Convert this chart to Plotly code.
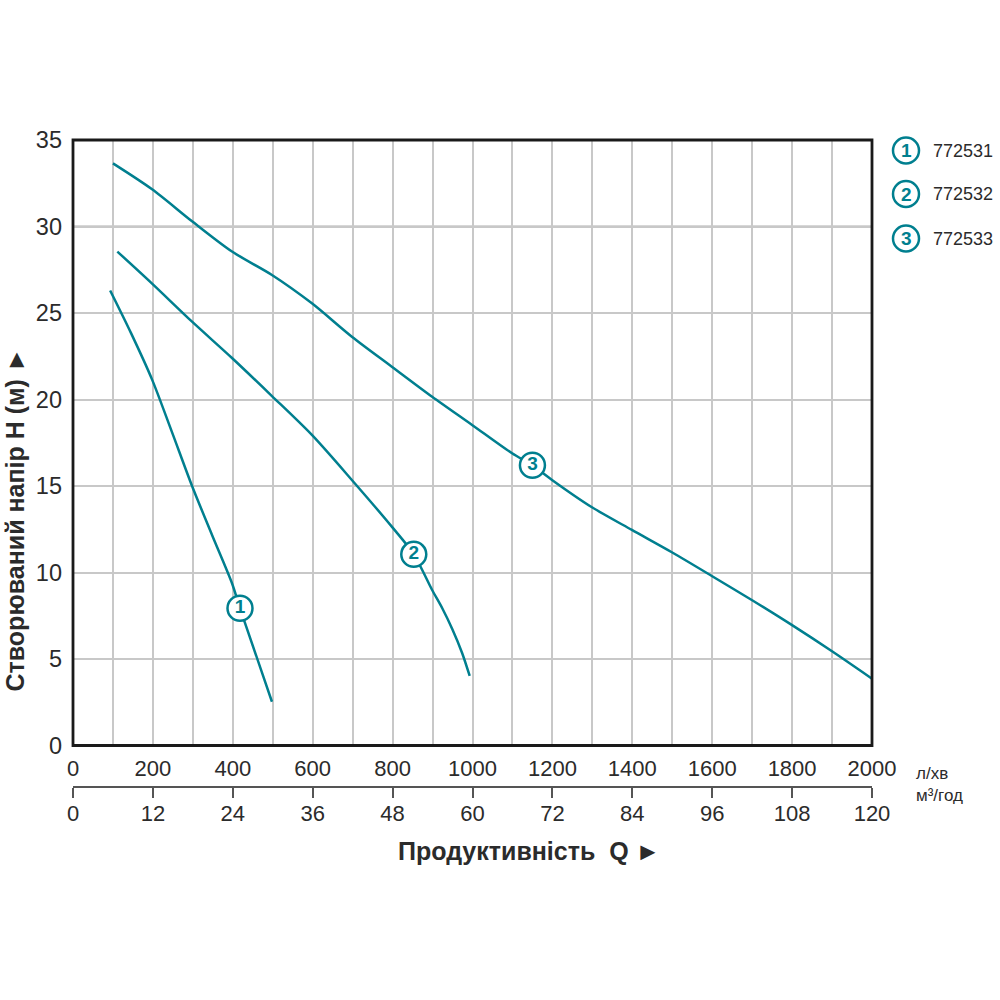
import plotly.graph_objects as go

Q1 = [93, 145, 198, 248, 298, 348, 398, 418, 498]
H1 = [26.3, 23.85, 21.15, 18.1, 15.0, 12.17, 9.38, 7.93, 2.53]
Q2 = [111, 198, 298, 398, 498, 598, 698, 798, 853, 899, 924, 949, 974, 993]
H2 = [28.55, 26.7, 24.5, 22.4, 20.2, 17.95, 15.35, 12.65, 11.05, 8.99, 7.95, 6.75, 5.35, 4.02]
Q3 = [100, 198, 298, 398, 498, 598, 698, 798, 899, 999, 1099, 1150, 1199, 1299, 1399, 1499, 1599, 1699, 1799, 1899, 2000]
H3 = [33.65, 32.15, 30.3, 28.55, 27.2, 25.56, 23.63, 21.9, 20.16, 18.53, 16.89, 16.2, 15.35, 13.77, 12.46, 11.17, 9.8, 8.41, 6.97, 5.46, 3.86]
CURVES = [(Q1, H1, 7), (Q2, H2, 8), (Q3, H3, 11)]
NUMBERS = ["1", "2", "3"]
CODES = ["772531", "772532", "772533"]
LPM_TICKS = list(range(0, 2001, 200))
M3H_TICKS = list(range(0, 121, 12))

TEAL = "#007f8f"
GRID = "#c8c8c8"
TEXT = "#2b2b2b"
FONT = "Liberation Sans, Arial, sans-serif"

W, H = 1000, 1000
L, R, T, B = 73, 128, 140, 100
PH = H - T - B
PW = W - L - R
BOTTOM = 745.5


def px(x):
    return (x - L) / PW


def py(y):
    return (H - B - y) / PH


fig = go.Figure()
for q, h, _ in CURVES:
    fig.add_trace(go.Scatter(x=q, y=h, mode="lines", line=dict(color=TEAL, width=2.5, shape="spline", smoothing=0.8),
                             showlegend=False, hoverinfo="skip"))
for (q, h, i), n in zip(CURVES, NUMBERS):
    fig.add_trace(go.Scatter(x=[q[i]], y=[h[i]], mode="markers+text", text=[n], textposition="middle center",
                             textfont=dict(color=TEAL, size=19, family=FONT, weight="bold"),
                             marker=dict(size=25, color="white", line=dict(color=TEAL, width=2.5)),
                             showlegend=False, hoverinfo="skip"))
# second scale (m3/h) drawn on its own axis
fig.add_trace(go.Scatter(x=M3H_TICKS, y=[0] * len(M3H_TICKS), xaxis="x2", mode="markers",
                         marker=dict(opacity=0), showlegend=False, hoverinfo="skip"))

annotations = []
shapes = [dict(type="line", xref="x", yref="y", x0=0, x1=2000, y0=30, y1=30, layer="below",
               line=dict(color="#b0b0b0", width=2)),
          dict(type="rect", xref="paper", yref="paper", x0=0, x1=1, y0=py(BOTTOM), y1=1, layer="above",
               line=dict(color="#1a1a1a", width=2.8))]


def note(x, y, text, size, color=TEXT, xanchor="center", angle=0):
    annotations.append(dict(x=px(x), y=py(y), xref="paper", yref="paper", text=text, showarrow=False,
                            xanchor=xanchor, yanchor="middle", textangle=angle,
                            font=dict(color=color, size=size, family=FONT)))


for n, c, y in zip(NUMBERS, CODES, [150.5, 194, 238.5]):
    shapes.append(dict(type="circle", xref="paper", yref="paper", x0=px(893), x1=px(919), y0=py(y + 13), y1=py(y - 13),
                       line=dict(color=TEAL, width=2.5), fillcolor="white"))
    note(906, y, f"<b>{n}</b>", 19, color=TEAL)
    note(931, y, c, 18, xanchor="left")
note(914, 773, "л/хв", 17, xanchor="left")
note(914, 795, "м³/год", 17, xanchor="left")
note(529, 851, "<b>Продуктивність  Q ►</b>", 25)
note(14, 519.5, "<b>Створюваний напір Н (м) ►</b>", 25, angle=-90)

fig.update_layout(
    width=W, height=H, margin=dict(l=L, r=R, t=T, b=B), plot_bgcolor="white", paper_bgcolor="white",
    font=dict(family=FONT, color=TEXT, size=22), showlegend=False,
    xaxis=dict(range=[0, 2000], tickvals=LPM_TICKS, ticks="", showgrid=True, gridcolor=GRID, gridwidth=1.5,
               minor=dict(dtick=100, showgrid=True, gridcolor=GRID, gridwidth=1.5, ticks=""),
               showline=False, zeroline=False, ticklabelstandoff=7,
               tickfont=dict(size=22, color=TEXT), anchor="y"),
    xaxis2=dict(range=[0, 120], tickvals=M3H_TICKS, ticks="outside", ticklen=10, tickwidth=1.5, tickcolor="#555555",
                showgrid=False, zeroline=False, showline=True, linecolor="#555555", linewidth=1.5,
                overlaying="x", anchor="free", position=py(787), side="bottom", ticklabelstandoff=-3,
                tickfont=dict(size=22, color=TEXT)),
    yaxis=dict(range=[0, 35], dtick=5, domain=[py(BOTTOM), 1], showgrid=True, gridcolor=GRID, gridwidth=1.5, zeroline=False,
               showline=False, ticks="", ticklabelstandoff=10,
               tickfont=dict(size=23.5, color=TEXT)),
    shapes=shapes, annotations=annotations,
)
fig.write_html("out.html", post_script="document.body.style.margin='0';", config={"displayModeBar": False})
